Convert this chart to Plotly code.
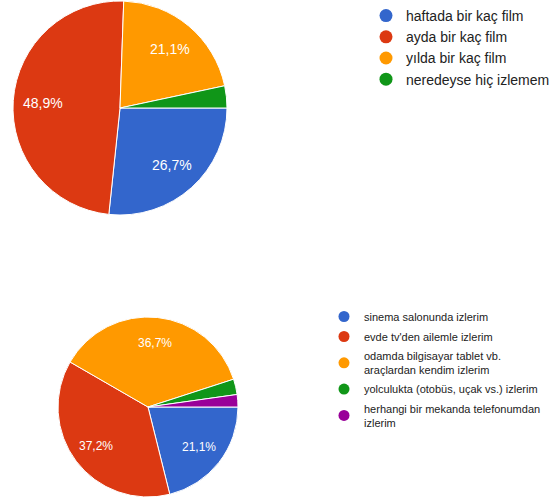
import math
import plotly.graph_objects as go

# Top chart data
top_labels = ["haftada bir kaç film", "ayda bir kaç film", "yılda bir kaç film", "neredeyse hiç izlemem"]
top_values = [48, 88, 38, 6]
top_colors = ["#3366cc", "#dc3912", "#ff9900", "#109618"]

# Bottom chart data
bot_labels = [
    "sinema salonunda izlerim",
    "evde tv'den ailemle izlerim",
    "odamda bilgisayar tablet vb.<br>araçlardan kendim izlerim",
    "yolculukta (otobüs, uçak vs.) izlerim",
    "herhangi bir mekanda telefonumdan<br>izlerim",
]
bot_values = [38, 67, 66, 5, 4]
bot_colors = ["#3366cc", "#dc3912", "#ff9900", "#109618", "#990099"]

W, H = 556, 502
FONT = "Arial, Liberation Sans, sans-serif"


def clamp(v):
    return min(1.0, max(0.0, v))


def fx(p):
    return p / W


def fy(p):
    return 1 - p / H


def pie_dom(cx, cy, r):
    return dict(x=[clamp(fx(cx - r)), clamp(fx(cx + r))],
                y=[clamp(fy(cy + r)), clamp(fy(cy - r))])


def pct_labels(vals, cx, cy, r, size, k=0.72, rotation=90, thresh=0.05):
    tot = sum(vals)
    anns = []
    start = rotation
    for v in vals:
        span = 360.0 * v / tot
        if v / tot >= thresh:
            mid = math.radians(start + span / 2)
            x = cx + k * r * math.sin(mid)
            y = cy - k * r * math.cos(mid)
            txt = ("%.1f%%" % (100.0 * v / tot)).replace(".", ",")
            anns.append(dict(
                x=fx(x), y=fy(y), xref="paper", yref="paper", text=txt,
                showarrow=False, xanchor="center", yanchor="middle",
                font=dict(color="white", size=size, family=FONT),
            ))
        start += span
    return anns


TOP_C = (120, 108, 107)
BOT_C = (148, 407, 90)

fig = go.Figure()

fig.add_trace(go.Pie(
    labels=top_labels, values=top_values, sort=False, direction="clockwise", rotation=90,
    marker=dict(colors=top_colors, line=dict(color="white", width=1)),
    textinfo="none", domain=pie_dom(*TOP_C), showlegend=False, hoverinfo="label+percent",
))

fig.add_trace(go.Pie(
    labels=bot_labels, values=bot_values, sort=False, direction="clockwise", rotation=90,
    marker=dict(colors=bot_colors, line=dict(color="white", width=1)),
    textinfo="none", domain=pie_dom(*BOT_C), showlegend=False, hoverinfo="label+percent",
))

for i, (lab, col) in enumerate(zip(top_labels, top_colors)):
    fig.add_trace(go.Scatter(
        x=[None], y=[None], mode="markers", name=lab,
        marker=dict(color=col, size=13, symbol="circle"),
        legend="legend", legendgroup="t%d" % i, showlegend=True,
    ))

for i, (lab, col) in enumerate(zip(bot_labels, bot_colors)):
    fig.add_trace(go.Scatter(
        x=[None], y=[None], mode="markers", name=lab,
        marker=dict(color=col, size=11, symbol="circle"),
        legend="legend2", legendgroup="b%d" % i, showlegend=True,
    ))

annotations = pct_labels(top_values, *TOP_C, size=14) + pct_labels(bot_values, *BOT_C, size=12)

fig.update_layout(
    width=W, height=H, margin=dict(l=0, r=0, t=0, b=0, autoexpand=False),
    paper_bgcolor="white", plot_bgcolor="white",
    separators=",.",
    font=dict(family=FONT, color="#222222"),
    xaxis=dict(visible=False), yaxis=dict(visible=False),
    annotations=annotations,
    legend=dict(
        x=fx(366), y=1, xanchor="left", yanchor="top",
        font=dict(size=14, color="#222222", family=FONT),
        traceorder="grouped", tracegroupgap=0, bgcolor="rgba(0,0,0,0)",
    ),
    legend2=dict(
        x=fx(324), y=fy(302), xanchor="left", yanchor="top",
        font=dict(size=11, color="#222222", family=FONT),
        traceorder="grouped", tracegroupgap=1, bgcolor="rgba(0,0,0,0)",
    ),
)

fig.write_html("out.html", config={"displayModeBar": False},
               post_script="document.body.style.margin='0px';")
